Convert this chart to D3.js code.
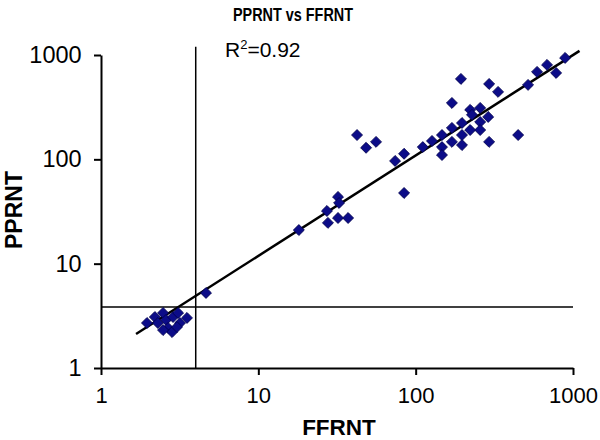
<!DOCTYPE html>
<html><head><meta charset="utf-8">
<script src="https://cdn.jsdelivr.net/npm/d3@7"></script>
<style>body{margin:0;background:#fff}svg{display:block}text{font-family:"Liberation Sans",Arial,sans-serif}</style>
</head><body><div id="chart"></div>
<script>
const ffrnt = [1.96,2.20,2.30,2.48,2.59,2.67,2.83,2.87,3.09,3.18,3.52,2.48,3.04,4.65,
  18.1,27.3,32.1,32.6,27.7,32.1,37.2,84.4,42.4,56.0,48.4,74.0,84.4,
  111,127,147,147,147,170,170,197,197,197,222,222,228,257,257,257,289,293,170,194,293,334,448,518,591,684,781,891];
const pprnt = [2.70,3.08,2.70,3.37,2.89,2.42,2.21,3.08,3.37,2.70,3.02,2.31,2.47,5.24,
  21.0,32.0,43.6,38.2,24.6,27.4,27.4,47.6,171,147,129,96.5,113,
  131,150,171,131,110,147,200,223,171,137,191,298,267,311,228,191,255,147,347,590,528,443,171,517,689,804,673,938];
const fitX = [1.67, 1100];
const fitY = [2.12, 1095];
const xThreshold = 4.0;
const yThreshold = 3.85;
const xTicks = [1, 10, 100, 1000];
const yTicks = [1, 10, 100, 1000];
const title = "PPRNT vs FFRNT";
const xLabel = "FFRNT";
const yLabel = "PPRNT";

const W = 600, H = 440;
const svg = d3.select("#chart").append("svg").attr("width", W).attr("height", H);
const x = d3.scaleLog().domain([1, 1000]).range([101, 573]);
const y = d3.scaleLog().domain([1, 1000]).range([368, 55]);

// title
svg.append("text").attr("x", 233).attr("y", 21).attr("font-size", 18).attr("font-weight", "bold")
  .attr("textLength", 120).attr("lengthAdjust", "spacingAndGlyphs").text(title);
// R2
const r2 = svg.append("text").attr("x", 225).attr("y", 57).attr("font-size", 21);
r2.append("tspan").text("R");
r2.append("tspan").attr("dy", -8).attr("font-size", 13).text("2");
r2.append("tspan").attr("dy", 8).text("=0.92");

// reference lines
svg.append("line").attr("x1", x(xThreshold)).attr("x2", x(xThreshold)).attr("y1", y(1200)).attr("y2", y(1))
  .attr("stroke", "#000").attr("stroke-width", 1.5);
svg.append("line").attr("x1", x(1)).attr("x2", x(1000)).attr("y1", y(yThreshold)).attr("y2", y(yThreshold))
  .attr("stroke", "#000").attr("stroke-width", 1.5);

// axes
const xAxis = svg.append("g").attr("transform", `translate(0,${y(1)})`)
  .call(d3.axisBottom(x).tickValues(xTicks).tickFormat(d3.format("d")).tickSize(7).tickSizeOuter(0));
const yAxis = svg.append("g").attr("transform", `translate(${x(1)},0)`)
  .call(d3.axisLeft(y).tickValues(yTicks).tickFormat(d3.format("d")).tickSize(7).tickSizeOuter(0));
[xAxis, yAxis].forEach(g => {
  g.select(".domain").attr("stroke", "#000").attr("stroke-width", 2);
  g.selectAll(".tick line").attr("stroke", "#000").attr("stroke-width", 2);
  g.selectAll(".tick text").attr("fill", "#000").attr("font-family", '"Liberation Sans",Arial,sans-serif');
});
xAxis.selectAll(".tick text").attr("font-size", 22).attr("dy", "1.15em");
yAxis.selectAll(".tick text").attr("font-size", 23.5).attr("dx", "-0.4em");

// axis labels
svg.append("text").attr("x", 339).attr("y", 435).attr("text-anchor", "middle").attr("font-size", 22.5).attr("font-weight", "bold").text(xLabel);
svg.append("text").attr("transform", `translate(22,210) rotate(-90)`).attr("text-anchor", "middle").attr("font-size", 23).attr("font-weight", "bold").text(yLabel);

// regression line
svg.append("line").attr("x1", x(fitX[0])).attr("y1", y(fitY[0])).attr("x2", x(fitX[1])).attr("y2", y(fitY[1]))
  .attr("stroke", "#000").attr("stroke-width", 2.5);

// points
const sym = d3.symbol().type(d3.symbolSquare).size(60);
svg.append("g").selectAll("path").data(ffrnt.map((v, i) => [v, pprnt[i]])).join("path")
  .attr("d", sym)
  .attr("transform", d => `translate(${x(d[0])},${y(d[1])}) rotate(45)`)
  .attr("fill", "#0c0c88").attr("stroke", "#00004d").attr("stroke-width", 0.8);
</script></body></html>
